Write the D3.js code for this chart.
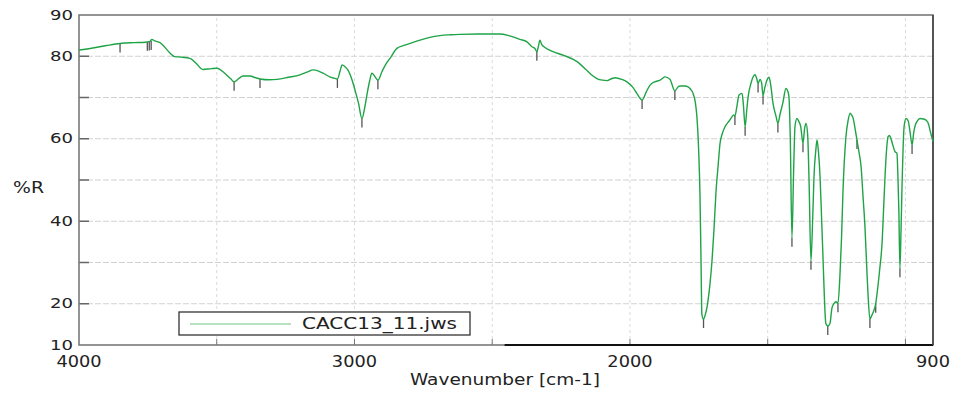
<!DOCTYPE html>
<html>
<head>
<meta charset="utf-8">
<script src="https://cdn.jsdelivr.net/npm/d3@7"></script>
<style>
  body { margin: 0; background: #fff; }
  text { font-family: "DejaVu Sans", sans-serif; fill: #222; }
</style>
</head>
<body>
<div class="graph"></div>
<script>
// spectrum (wavenumber cm-1 / %R)
var wavenumber = [4000, 3950, 3900, 3851, 3800, 3760, 3742, 3736, 3725, 3706, 3690, 3670, 3652, 3630, 3597, 3575, 3550, 3520, 3499, 3470,
  3450, 3437, 3420, 3405, 3379, 3360, 3343, 3310, 3281, 3240, 3198, 3170, 3151, 3130, 3114, 3090, 3075, 3062, 3052, 3045,
  3035, 3024, 3010, 2998, 2985, 2973, 2963, 2955, 2945, 2937, 2926, 2915, 2900, 2885, 2871, 2846, 2817, 2790, 2762, 2730,
  2690, 2650, 2617, 2550, 2472, 2440, 2425, 2400, 2374, 2356, 2345, 2338, 2332, 2327, 2320, 2312, 2295, 2279, 2240, 2192,
  2160, 2140, 2120, 2100, 2083, 2065, 2054, 2030, 2011, 1990, 1975, 1956, 1940, 1927, 1910, 1891, 1873, 1855, 1837, 1825,
  1818, 1800, 1789, 1780, 1771, 1762, 1757, 1750, 1746, 1742, 1739, 1733, 1726, 1720, 1710, 1702, 1695, 1688, 1680, 1673,
  1665, 1655, 1640, 1630, 1624, 1619, 1612, 1604, 1593, 1588, 1582, 1576, 1571, 1561, 1546, 1540, 1535, 1528, 1522, 1517,
  1510, 1503, 1495, 1488, 1481, 1470, 1463, 1455, 1445, 1434, 1427, 1423, 1418, 1412, 1406, 1401, 1394, 1387, 1380, 1372,
  1366, 1361, 1355, 1350, 1343, 1337, 1332, 1325, 1321, 1316, 1310, 1304, 1299, 1294, 1289, 1282, 1274, 1267, 1260, 1252,
  1245, 1238, 1232, 1227, 1216, 1208, 1201, 1195, 1190, 1183, 1176, 1168, 1161, 1154, 1147, 1140, 1136, 1129, 1122, 1114,
  1108, 1103, 1094, 1085, 1078, 1071, 1063, 1058, 1053, 1046, 1038, 1031, 1027, 1024, 1020, 1016, 1013, 1005, 998, 990,
  983, 976, 970, 966, 957, 947, 935, 925, 916, 911, 900];
var percentR = [81.5, 82.0, 82.6, 83.1, 83.3, 83.4, 83.6, 84.1, 83.7, 83.3, 82.3, 80.8, 79.9, 79.8, 79.5, 78.3, 76.8, 77.0, 77.1, 75.8,
  74.6, 73.8, 74.6, 75.2, 75.2, 74.8, 74.5, 74.3, 74.4, 74.9, 75.5, 76.2, 76.7, 76.4, 75.9, 75.0, 74.7, 74.5, 76.5, 77.9,
  77.5, 76.7, 74.5, 71.8, 68.5, 64.9, 67.5, 70.6, 74.0, 75.9, 75.1, 74.2, 76.3, 78.2, 79.5, 81.9, 82.7, 83.3, 83.9, 84.5,
  85.0, 85.2, 85.3, 85.4, 85.4, 85.0, 84.7, 84.1, 83.5, 82.3, 81.9, 81.1, 82.5, 83.9, 82.8, 82.3, 81.6, 81.1, 80.2, 78.7,
  76.8, 75.5, 74.6, 74.2, 74.1, 74.6, 74.8, 74.4, 73.8, 72.5, 71.0, 69.4, 71.5, 73.0, 73.8, 74.2, 75.0, 74.4, 71.6, 72.6,
  72.8, 72.8, 72.6, 72.0, 71.0, 68.5, 65.3, 56.0, 46.8, 30.0, 17.5, 16.3, 17.5, 19.3, 24.5, 30.6, 38.0, 46.8, 53.5, 58.9,
  61.2, 62.9, 64.3, 65.3, 65.8, 65.5, 67.8, 70.6, 71.0, 68.0, 62.9, 67.0, 70.2, 73.4, 75.5, 74.6, 73.4, 74.4, 73.5, 70.5,
  72.5, 74.2, 74.9, 72.5, 68.7, 65.5, 63.7, 66.0, 68.7, 72.2, 71.5, 70.2, 60.0, 36.0, 52.0, 62.9, 64.9, 64.2, 62.9, 58.9,
  62.5, 63.7, 61.0, 50.0, 30.4, 40.0, 50.8, 57.5, 59.7, 57.0, 50.8, 40.0, 30.6, 21.0, 15.2, 14.6, 15.2, 18.9, 20.0, 20.5,
  20.1, 26.6, 36.0, 46.8, 60.5, 64.5, 66.2, 65.7, 65.0, 62.5, 59.7, 56.5, 53.2, 46.0, 38.7, 28.0, 22.5, 16.3, 17.2, 18.5,
  20.0, 22.5, 28.0, 34.6, 45.0, 54.8, 60.5, 60.8, 60.1, 58.5, 56.9, 56.5, 50.0, 42.7, 28.6, 38.0, 46.8, 62.9, 64.9, 64.3,
  61.5, 58.5, 61.5, 62.9, 64.3, 64.9, 64.8, 64.5, 63.5, 62.1, 59.3];

// peak-pick marks
var peakWn = [3851, 3752, 3745, 3738, 3437, 3343, 3062, 2973, 2915, 2338, 1956, 1837, 1733, 1619, 1582, 1535, 1517, 1463, 1412, 1372,
  1343, 1282, 1245, 1176, 1129, 1108, 1020, 976];
var peakVal = [83.1, 83.5, 83.6, 83.7, 73.8, 74.5, 74.5, 64.9, 74.2, 81.1, 69.4, 71.6, 16.3, 65.5, 62.9, 73.4, 70.5, 63.7, 36.0, 58.9,
  30.4, 14.6, 20.1, 59.7, 16.3, 20.0, 28.6, 58.5];

var yTicks = [10, 20, 40, 60, 80, 90];
var yGrid = [20, 30, 40, 50, 60, 70, 80];
var xTicks = [4000, 3000, 2000, 900];
var xGrid = [3500, 3000, 2500, 2000, 1500, 1000];
var seriesName = "CACC13_11.jws";

var width = 956, height = 394;
var margin = { top: 15, right: 23, bottom: 49, left: 79 };

var svg = d3.select(".graph").append("svg")
  .attr("width", width)
  .attr("height", height);

var x = d3.scaleLinear().domain([4000, 900]).range([margin.left, width - margin.right]);
var y = d3.scaleLinear().domain([10, 90]).range([height - margin.bottom, margin.top]);

// grid
svg.append("g").selectAll("line")
  .data(yGrid).enter().append("line")
  .attr("x1", x(4000)).attr("x2", x(900))
  .attr("y1", function (d) { return y(d); })
  .attr("y2", function (d) { return y(d); })
  .attr("stroke", "#d2d2d2")
  .attr("stroke-dasharray", "6,2");

svg.append("g").selectAll("line")
  .data(xGrid).enter().append("line")
  .attr("y1", y(10)).attr("y2", y(90))
  .attr("x1", function (d) { return x(d); })
  .attr("x2", function (d) { return x(d); })
  .attr("stroke", "#dadada")
  .attr("stroke-dasharray", "3,3");

// tick marks (inside)
svg.append("g").selectAll("line")
  .data(d3.range(20, 90, 10)).enter().append("line")
  .attr("x1", x(4000)).attr("x2", x(4000) + 10)
  .attr("y1", function (d) { return y(d); })
  .attr("y2", function (d) { return y(d); })
  .attr("stroke", "#666")
  .attr("stroke-width", 1.5);

svg.append("g").selectAll("line")
  .data(xGrid).enter().append("line")
  .attr("y1", y(10)).attr("y2", y(10) - 6)
  .attr("x1", function (d) { return x(d); })
  .attr("x2", function (d) { return x(d); })
  .attr("stroke", "#777");

// frame
svg.append("rect")
  .attr("x", x(4000)).attr("y", y(90))
  .attr("width", x(900) - x(4000))
  .attr("height", y(10) - y(90))
  .attr("fill", "none")
  .attr("stroke", "#7a7a7a")
  .attr("stroke-width", 1.6);

svg.append("line")
  .attr("x1", x(2455)).attr("x2", x(900))
  .attr("y1", y(10)).attr("y2", y(10))
  .attr("stroke", "#111")
  .attr("stroke-width", 2);

svg.append("line")
  .attr("x1", x(900)).attr("x2", x(900))
  .attr("y1", y(90)).attr("y2", y(10))
  .attr("stroke", "#444")
  .attr("stroke-width", 1.6);

// peak marks
svg.append("g").selectAll("line")
  .data(peakWn).enter().append("line")
  .attr("x1", function (d) { return x(d); })
  .attr("x2", function (d) { return x(d); })
  .attr("y1", function (d, i) { return y(peakVal[i]); })
  .attr("y2", function (d, i) { return y(peakVal[i]) + 9; })
  .attr("stroke", "#555")
  .attr("stroke-width", 1.3);

// spectrum
var line = d3.line()
  .x(function (d) { return x(d); })
  .y(function (d, i) { return y(percentR[i]); })
  .curve(d3.curveMonotoneX);

svg.append("path")
  .datum(wavenumber)
  .attr("d", line)
  .attr("fill", "none")
  .attr("stroke", "#1fa347")
  .attr("stroke-width", 1.4)
  .attr("stroke-linejoin", "round");

// tick labels (the original font is wide, so stretch the digits)
svg.append("g").selectAll("text")
  .data(yTicks).enter().append("text")
  .attr("x", x(4000) - 6)
  .attr("y", function (d) { return y(d); })
  .attr("dy", "0.34em")
  .attr("text-anchor", "end")
  .attr("textLength", function (d) { return String(d).length * 11.5; })
  .attr("lengthAdjust", "spacingAndGlyphs")
  .style("font-size", "13.5px")
  .text(function (d) { return d; });

svg.append("g").selectAll("text")
  .data(xTicks).enter().append("text")
  .attr("x", function (d) { return x(d) - String(d).length * 11.3 / 2; })
  .attr("y", y(10) + 22)
  .attr("textLength", function (d) { return String(d).length * 11.3; })
  .attr("lengthAdjust", "spacingAndGlyphs")
  .style("font-size", "15.5px")
  .text(function (d) { return d; });

// axis titles
svg.append("text")
  .attr("x", 410).attr("y", 385)
  .attr("textLength", 190)
  .attr("lengthAdjust", "spacingAndGlyphs")
  .style("font-size", "16px")
  .text("Wavenumber [cm-1]");

svg.append("text")
  .attr("x", 13).attr("y", 193)
  .attr("textLength", 31)
  .attr("lengthAdjust", "spacingAndGlyphs")
  .style("font-size", "15px")
  .text("%R");

// legend
var legend = svg.append("g");
legend.append("rect")
  .attr("x", 179).attr("y", 312)
  .attr("width", 291).attr("height", 23)
  .attr("fill", "#fff")
  .attr("stroke", "#333")
  .attr("stroke-width", 1.3);
legend.append("line")
  .attr("x1", 190).attr("x2", 291)
  .attr("y1", 324).attr("y2", 324)
  .attr("stroke", "#9fd8ac")
  .attr("stroke-width", 1.3);
legend.append("text")
  .attr("x", 302).attr("y", 329)
  .attr("textLength", 155)
  .attr("lengthAdjust", "spacingAndGlyphs")
  .style("font-size", "15px")
  .text(seriesName);
</script>
</body>
</html>
